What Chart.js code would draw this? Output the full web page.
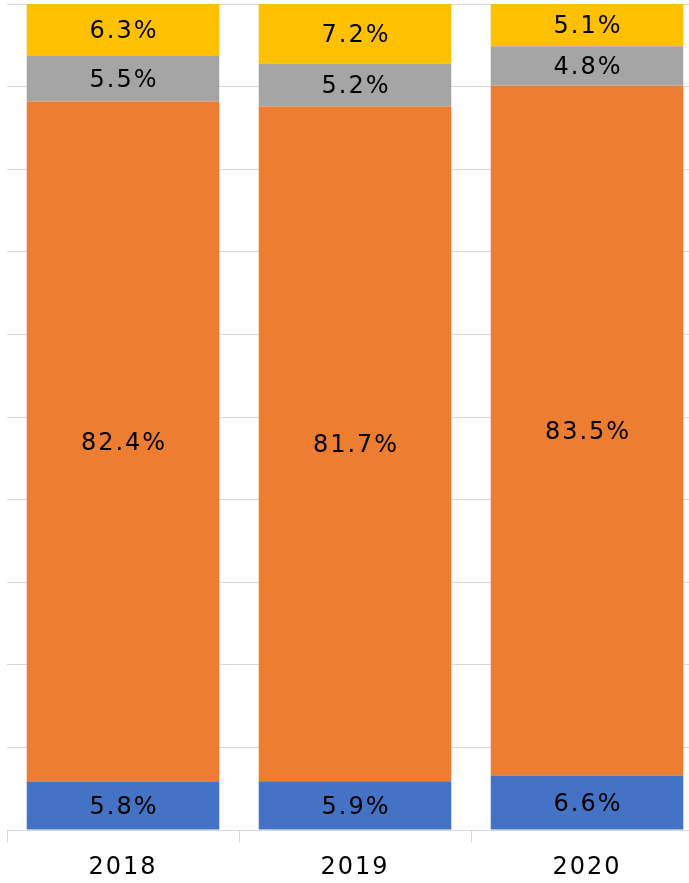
<!DOCTYPE html>
<html>
<head>
<meta charset="utf-8">
<script src="https://cdn.jsdelivr.net/npm/chart.js@4"></script>
<style>
  html, body { margin: 0; padding: 0; background: #fff; overflow: hidden; }
  #wrap { width: 703px; height: 883px; }
</style>
</head>
<body>
<div id="wrap"><canvas id="shareChart"></canvas></div>
<script>
// categories and series (percent of total)
const years = ['2018', '2019', '2020'];
const blueVals = [5.8, 5.9, 6.6];
const orangeVals = [82.4, 81.7, 83.5];
const grayVals = [5.5, 5.2, 4.8];
const yellowVals = [6.3, 7.2, 5.1];

const labelFont = '24px "DejaVu Sans"';

// draws the value in the middle of each segment, spaced out a bit
const segmentLabels = {
    id: 'segmentLabels',
    beforeDraw(chart) {
        // spacing also applies to the axis labels
        chart.ctx.letterSpacing = '2px';
    },
    afterDatasetsDraw(chart) {
        const ctx = chart.ctx;
        ctx.save();
        ctx.font = labelFont;
        ctx.fillStyle = '#000';
        ctx.textAlign = 'center';
        ctx.textBaseline = 'middle';
        ctx.letterSpacing = '2px';
        chart.data.datasets.forEach((ds, i) => {
            chart.getDatasetMeta(i).data.forEach((bar, j) => {
                const mid = (bar.y + bar.base) / 2;
                ctx.fillText(ds.data[j].toFixed(1) + '%', bar.x + 1, mid + 2);
            });
        });
        ctx.restore();
    },
    afterDraw(chart) {
        chart.ctx.letterSpacing = '0px';
    }
};

document.addEventListener('DOMContentLoaded', () => {
    const ctx = document.getElementById('shareChart').getContext('2d');
    new Chart(ctx, {
        type: 'bar',
        data: {
            labels: years,
            datasets: [
                { data: blueVals, backgroundColor: '#4472C4' },
                { data: orangeVals, backgroundColor: '#ED7D31' },
                { data: grayVals, backgroundColor: '#A5A5A5' },
                { data: yellowVals, backgroundColor: '#FFC000' }
            ]
        },
        options: {
            responsive: true,
            maintainAspectRatio: false,
            animation: false,
            layout: { padding: { left: 7, top: 4, right: 0, bottom: 0 } },
            datasets: { bar: { categoryPercentage: 0.83, barPercentage: 1 } },
            plugins: { legend: { display: false }, tooltip: { enabled: false } },
            scales: {
                x: {
                    stacked: true,
                    border: { color: '#d9d9d9', width: 1 },
                    grid: { offset: true, drawOnChartArea: false, color: '#d9d9d9', tickLength: 13 },
                    ticks: { color: '#000', font: { family: 'DejaVu Sans', size: 24 }, padding: 10 },
                    afterFit(scale) { scale.height = 53; }
                },
                y: {
                    stacked: true,
                    min: 0,
                    max: 100,
                    border: { display: false },
                    grid: { color: '#d9d9d9', drawTicks: false },
                    ticks: { display: false, stepSize: 10 },
                    afterFit(scale) { scale.width = 0; }
                }
            }
        },
        plugins: [segmentLabels]
    });
});
</script>
</body>
</html>
